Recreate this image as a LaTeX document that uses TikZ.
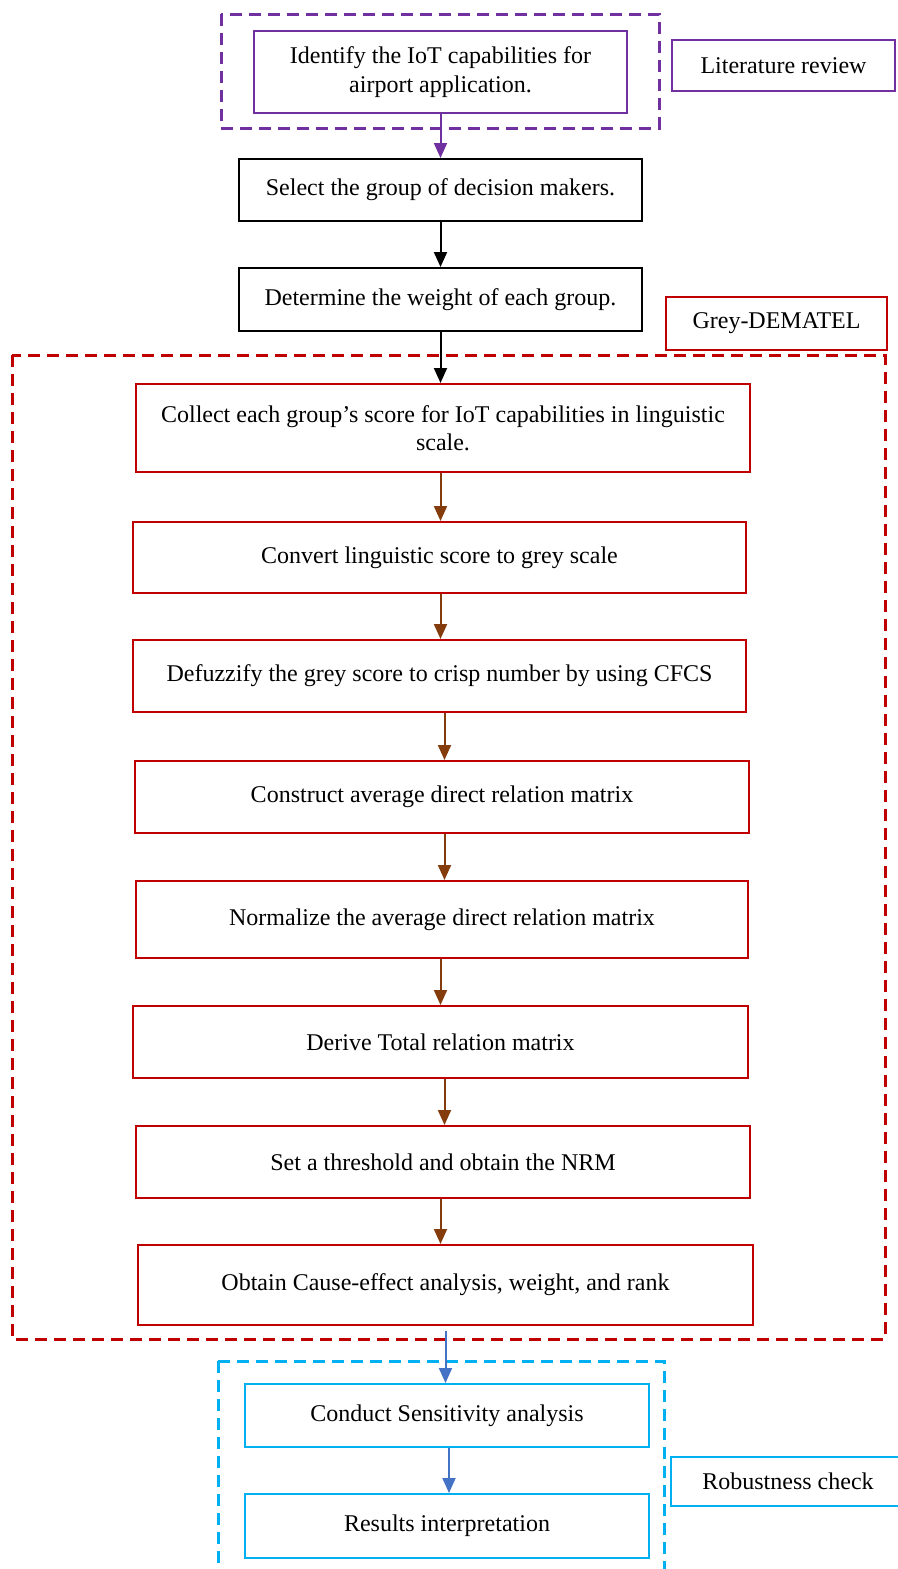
\documentclass[tikz,border=0pt]{standalone}
\usepackage{fontspec}
\setmainfont{Liberation Serif}
\usetikzlibrary{arrows.meta}
\definecolor{cpurple}{HTML}{7030A0}
\definecolor{cred}{HTML}{C00000}
\definecolor{cbrown}{HTML}{843C0C}
\definecolor{cblue}{HTML}{00B0F0}
\definecolor{carrowblue}{HTML}{4472C4}
\tikzset{
  box/.style={draw, line width=2pt, inner sep=0pt, align=center, font=\fontsize{24}{28.5}\selectfont},
  purplebox/.style={box, draw=cpurple},
  blackbox/.style={box, draw=black},
  redbox/.style={box, draw=cred},
  bluebox/.style={box, draw=cblue},
  group/.style={dashed, line width=3pt, dash pattern=on 12pt off 7pt},
  arr/.style={line width=2pt, -{Triangle[width=13pt,length=15pt]}},
}
\begin{document}
\begin{tikzpicture}[x=1pt,y=-1pt]
\useasboundingbox (0,0) rectangle (897,1569);
% group frames
\draw[group, draw=cpurple] (221,14) rectangle (659,128);
\draw[group, draw=cred] (12,355) rectangle (885,1339);
\draw[group, draw=cblue] (218,1361) -- (218,1575) (218,1361) -- (664,1361) -- (664,1575);
% labels
\node[purplebox, minimum width=223pt, minimum height=51pt] (lit) at (783.5,65.5) {Literature review};
\node[redbox, minimum width=221pt, minimum height=53pt] (grey) at (776.5,323.5) {Grey-DEMATEL};
\node[bluebox, minimum width=240pt, minimum height=49pt, anchor=west] (rob) at (670,1481.5) {\hspace*{-6pt}Robustness check};
% steps
\node[purplebox, minimum width=373pt, minimum height=82pt] (s1) at (440.5,72) {Identify the IoT capabilities for\\airport application.};
\node[blackbox, minimum width=403pt, minimum height=62pt] (s2) at (440.5,190) {Select the group of decision makers.};
\node[blackbox, minimum width=403pt, minimum height=63pt] (s3) at (440.5,299.5) {Determine the weight of each group.};
\node[redbox, minimum width=614pt, minimum height=88pt] (s4) at (443,428) {Collect each group’s score for IoT capabilities in linguistic\\scale.};
\node[redbox, minimum width=613pt, minimum height=71pt] (s5) at (439.5,557.5) {Convert linguistic score to grey scale};
\node[redbox, minimum width=613pt, minimum height=72pt] (s6) at (439.5,676) {Defuzzify the grey score to crisp number by using CFCS};
\node[redbox, minimum width=614pt, minimum height=72pt] (s7) at (442,797) {Construct average direct relation matrix};
\node[redbox, minimum width=612pt, minimum height=77pt] (s8) at (442,919.5) {Normalize the average direct relation matrix};
\node[redbox, minimum width=615pt, minimum height=72pt] (s9) at (440.5,1042) {Derive Total relation matrix};
\node[redbox, minimum width=614pt, minimum height=72pt] (s10) at (443,1162) {Set a threshold and obtain the NRM};
\node[redbox, minimum width=615pt, minimum height=80pt] (s11) at (445.5,1285) {Obtain Cause-effect analysis, weight, and rank};
\node[bluebox, minimum width=404pt, minimum height=63pt] (s12) at (447,1415.5) {Conduct Sensitivity analysis};
\node[bluebox, minimum width=404pt, minimum height=64pt] (s13) at (447,1526) {Results interpretation};
% connectors
\draw[arr, draw=cpurple, fill=cpurple] (s1.south) -- (s2.north);
\draw[arr] (s2.south) -- (s3.north);
\draw[arr] (s3.south) -- (s3.south |- s4.north);
\draw[arr, draw=cbrown, fill=cbrown] (s4.south -| s3.south) -- (s3.south |- s5.north);
\draw[arr, draw=cbrown, fill=cbrown] (s5.south -| s3.south) -- (s3.south |- s6.north);
\draw[arr, draw=cbrown, fill=cbrown] ([xshift=4pt]s6.south -| s3.south) -- ([xshift=4pt]s3.south |- s7.north);
\draw[arr, draw=cbrown, fill=cbrown] ([xshift=4pt]s7.south -| s3.south) -- ([xshift=4pt]s3.south |- s8.north);
\draw[arr, draw=cbrown, fill=cbrown] (s8.south -| s3.south) -- (s3.south |- s9.north);
\draw[arr, draw=cbrown, fill=cbrown] ([xshift=4pt]s9.south -| s3.south) -- ([xshift=4pt]s3.south |- s10.north);
\draw[arr, draw=cbrown, fill=cbrown] (s10.south -| s3.south) -- (s3.south |- s11.north);
\draw[arr, draw=carrowblue, fill=carrowblue] ([yshift=-5pt]s11.south) -- (s11.south |- s12.north);
\draw[arr, draw=carrowblue, fill=carrowblue] ([xshift=2pt]s12.south) -- ([xshift=2pt]s13.north);
\end{tikzpicture}
\end{document}
